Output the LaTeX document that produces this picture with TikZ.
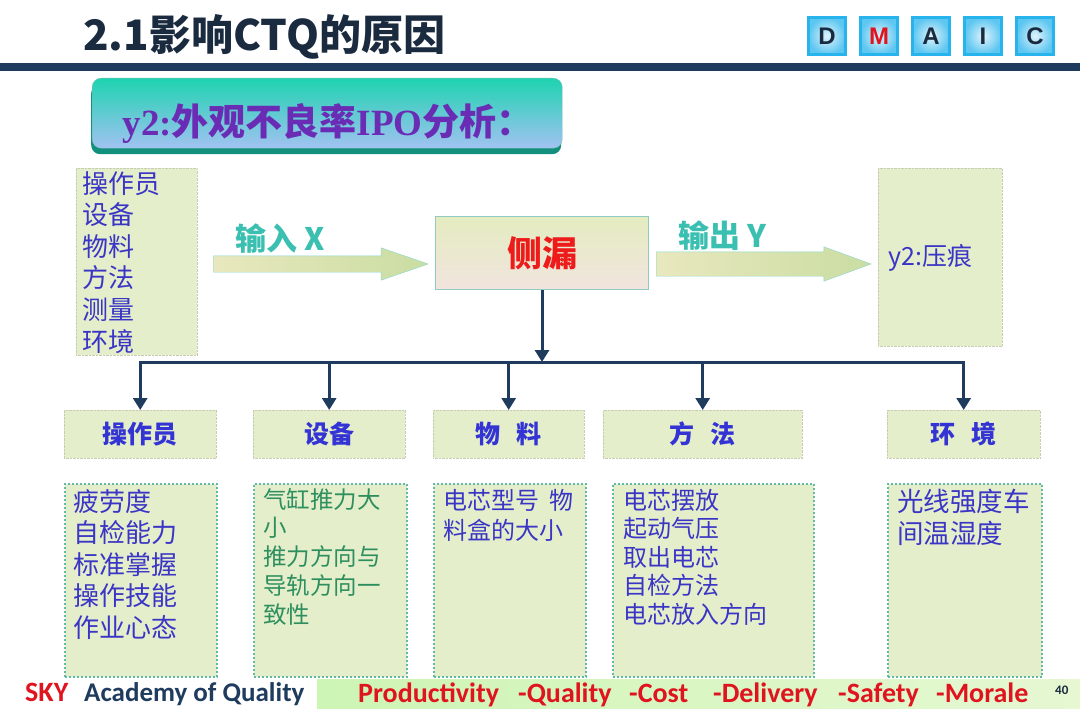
\documentclass[tikz,border=0pt]{standalone}
\usepackage{fontspec}
\setmainfont{Liberation Sans}
\newfontfamily\cjk{Noto Sans CJK SC}
\newfontfamily\cond{Carlito}
\newfontfamily\rom{Liberation Serif}
\usetikzlibrary{positioning, arrows.meta, shapes.arrows, shadows}

\definecolor{barNavy}{HTML}{1F3C5E}
\definecolor{titleInk}{HTML}{1B2B3F}
\definecolor{paleLeaf}{HTML}{E4EECB}
\definecolor{inkBlue}{HTML}{3B35C6}
\definecolor{headBlue}{HTML}{3434D4}
\definecolor{inkGreen}{HTML}{2E8F5E}
\definecolor{tealInk}{HTML}{3BBFB1}
\definecolor{tealDark}{HTML}{138F7E}
\definecolor{dotTeal}{HTML}{62B9A8}
\definecolor{alarmRed}{HTML}{EE1B1B}
\definecolor{skyRed}{HTML}{E0141E}
\definecolor{dmaicBlue}{HTML}{27B3EC}
\definecolor{plumInk}{HTML}{6A2CB4}
\definecolor{khakiPale}{HTML}{E8E8BE}
\definecolor{leafMid}{HTML}{CADDA2}
\definecolor{bannerTop}{HTML}{1ED3B0}
\definecolor{bannerMid}{HTML}{3FE0D2}
\definecolor{bannerBot}{HTML}{A2C2F2}
\definecolor{coreTop}{HTML}{E4ECC0}
\definecolor{coreBot}{HTML}{F1E4DE}
\definecolor{coreRim}{HTML}{8FCBC3}
\definecolor{footLeft}{HTML}{CDF5B4}
\definecolor{footRight}{HTML}{E6F7D2}

\tikzset{
  dmaic/.style={draw=dmaicBlue, line width=3pt, inner color=white!85!dmaicBlue,
    outer color=dmaicBlue!75, minimum size=37pt, inner sep=0pt,
    font=\bfseries\fontsize{24}{24}\selectfont, text=titleInk},
  sidebox/.style={draw=paleLeaf!70!gray, densely dotted, fill=paleLeaf, inner sep=0pt, anchor=north west},
  catbox/.style={sidebox, minimum height=48pt, font=\cjk\bfseries\fontsize{25}{25}\selectfont, text=headBlue},
  listbox/.style={draw=dotTeal, dotted, line width=2pt, fill=paleLeaf, minimum height=193pt,
    inner sep=0pt, anchor=north west},
  listtext/.style={anchor=north west, align=left, inner sep=0pt, text=inkBlue},
  bigarrow/.style={single arrow, anchor=tail, draw=tealInk!60, left color=khakiPale, right color=leafMid,
    minimum height=215pt, inner xsep=0pt},
  arrowlabel/.style={anchor=base west, inner sep=0pt, text=tealInk,
    font=\cjk\bfseries\fontsize{31}{31}\selectfont},
  footword/.style={anchor=base west, inner sep=0pt, text=skyRed,
    font=\cond\bfseries\fontsize{28}{28}\selectfont},
  flow/.style={draw=barNavy, line width=3pt, -{Triangle[width=14pt,length=12pt]}},
}

\begin{document}
\begin{tikzpicture}[x=1pt, y=-1pt]
\useasboundingbox (0,0) rectangle (1080,709);

% heading and DMAIC strip
\node[anchor=west, inner sep=0pt, text=titleInk, font=\cjk\bfseries\fontsize{42}{42}\selectfont]
  (heading) at (83,37) {2.1影响CTQ的原因};
\foreach \ltr/\xx/\ink in {D/827/titleInk, M/879/skyRed, A/931/titleInk, I/983/titleInk, C/1035/titleInk}
  \node[dmaic, text=\ink] (dm\ltr) at (\xx,36) {\ltr};
\fill[barNavy] (0,63) rectangle (1080,71);

% teal banner
\node[anchor=north west, minimum width=470pt, minimum height=70pt, rounded corners=9pt,
  top color=bannerTop, middle color=bannerMid, bottom color=bannerBot, draw=tealDark!60,
  drop shadow={shadow xshift=-1pt, shadow yshift=-6pt, fill=tealDark, opacity=1}]
  (banner) at (92,78) {};
\node[inner sep=0pt, text=plumInk, font=\bfseries\fontsize{37}{37}\selectfont]
  (bannerText) at ([xshift=1pt, yshift=-10pt]banner.center)
  {{\rom y2:}{\cjk 外观不良率}{\rom IPO}{\cjk 分析：}};

% input -- process -- output
\node[sidebox, minimum width=121pt, minimum height=187pt] (inList) at (76,168) {};
\node[listtext, font=\cjk\fontsize{26}{31.6}\selectfont]
  (inText) at ([xshift=6pt, yshift=-3pt]inList.north west)
  {操作员\\设备\\物料\\方法\\测量\\环境};

\node[bigarrow, inner ysep=8pt, single arrow head extend=8pt, single arrow tip angle=38]
  (inArrow) at (213,264) {};
\node[arrowlabel] (inLabel) at ([xshift=22pt, yshift=14pt]inArrow.tail) {输入 X};

\node[anchor=north west, minimum width=213pt, minimum height=73pt, inner sep=0pt,
  top color=coreTop, bottom color=coreBot, draw=coreRim, line width=1pt,
  text=alarmRed, font=\cjk\bfseries\fontsize{35}{35}\selectfont]
  (core) at (435,216) {侧漏};

\node[bigarrow, inner ysep=12pt, single arrow head extend=5pt, single arrow tip angle=40]
  (outArrow) at (656,264) {};
\node[arrowlabel] (outLabel) at ([xshift=22pt, yshift=17pt]outArrow.tail) {输出 Y};

\node[sidebox, minimum width=124pt, minimum height=178pt] (outList) at (878,168) {};
\node[anchor=west, inner sep=0pt, text=inkBlue, font=\cjk\fontsize{25}{25}\selectfont]
  (outText) at (888,258) {y2:压痕};

% category headers
\node[catbox, minimum width=152pt] (opHead)  at (64,410)  {操作员};
\node[catbox, minimum width=152pt] (eqHead)  at (253,410) {设备};
\node[catbox, minimum width=151pt] (matHead) at (433,410) {物\hspace{0.65em}料};
\node[catbox, minimum width=199pt] (mtHead)  at (603,410) {方\hspace{0.65em}法};
\node[catbox, minimum width=153pt] (envHead) at (887,410) {环\hspace{0.65em}境};

% connectors
\coordinate (busY) at (0,362);
\coordinate (hub) at (core.south |- busY);
\draw[flow] (core.south) -- (hub);
\foreach \hd in {opHead, eqHead, matHead, mtHead, envHead}
  \draw[flow] (hub) -| (\hd.north);

% cause lists
\node[listbox, minimum width=152pt] (opList)  at (64,483)  {};
\node[listbox, minimum width=153pt] (eqList)  at (253,483) {};
\node[listbox, minimum width=152pt] (matList) at (433,483) {};
\node[listbox, minimum width=201pt] (mtList)  at (612,483) {};
\node[listbox, minimum width=154pt] (envList) at (887,483) {};

\node[listtext, font=\cjk\fontsize{26}{31.5}\selectfont]
  (opText) at ([xshift=9pt, yshift=-6pt]opList.north west)
  {疲劳度\\自检能力\\标准掌握\\操作技能\\作业心态};
\node[listtext, text=inkGreen, font=\cjk\fontsize{23.5}{28.7}\selectfont]
  (eqText) at ([xshift=10pt, yshift=-5pt]eqList.north west)
  {气缸推力大\\小\\推力方向与\\导轨方向一\\致性};
\node[listtext, font=\cjk\fontsize{24}{30}\selectfont]
  (matText) at ([xshift=10pt, yshift=-6pt]matList.north west)
  {电芯型号\ \ 物\\料盒的大小};
\node[listtext, font=\cjk\fontsize{24}{28.5}\selectfont]
  (mtText) at ([xshift=11pt, yshift=-6pt]mtList.north west)
  {电芯摆放\\起动气压\\取出电芯\\自检方法\\电芯放入方向};
\node[listtext, font=\cjk\fontsize{26.5}{32}\selectfont]
  (envText) at ([xshift=10pt, yshift=-6pt]envList.north west)
  {光线强度车\\间温湿度};

% footer
\shade[left color=footLeft, right color=footRight] (317,679) rectangle (1080,709);
\node[footword] (sky) at (25,701) {SKY};
\node[footword, text=barNavy, font=\cond\bfseries\fontsize{27}{27}\selectfont]
  (academy) at (84,701) {Academy of Quality};
\foreach \xx/\wrd [count=\i] in {358/Productivity, 518/-Quality, 629/-Cost, 713/-Delivery, 838/-Safety, 936/-Morale}
  \node[footword] (pqc\i) at (\xx,702) {\wrd};
\node[anchor=west, inner sep=0pt, text=titleInk, font=\cond\bfseries\fontsize{13}{13}\selectfont]
  (pageNo) at (1055,690) {40};
\end{tikzpicture}
\end{document}
